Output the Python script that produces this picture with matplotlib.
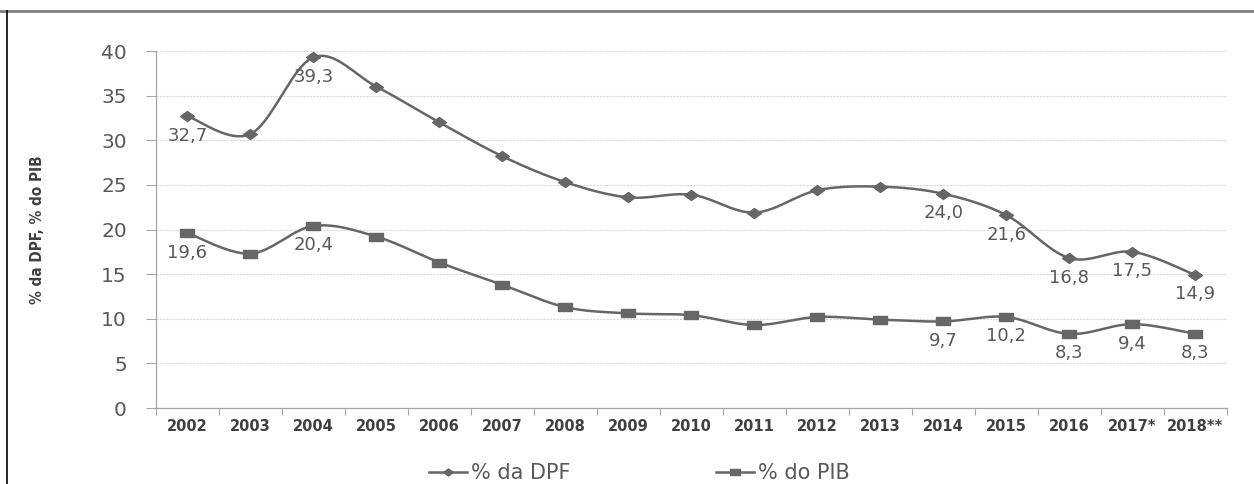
import numpy as np
import matplotlib
matplotlib.use('Agg')
import matplotlib.pyplot as plt
from matplotlib.lines import Line2D

years = ['2002', '2003', '2004', '2005', '2006', '2007', '2008', '2009', '2010',
         '2011', '2012', '2013', '2014', '2015', '2016', '2017*', '2018**']
pct_dpf = [32.7, 30.7, 39.3, 36.0, 32.0, 28.2, 25.3, 23.6, 23.9,
           21.9, 24.4, 24.8, 24.0, 21.6, 16.8, 17.5, 14.9]
pct_pib = [19.6, 17.3, 20.4, 19.2, 16.3, 13.8, 11.3, 10.6, 10.4,
           9.3, 10.2, 9.9, 9.7, 10.2, 8.3, 9.4, 8.3]
labelled = [0, 2, 12, 13, 14, 15, 16]

LINE = '#666666'
TXT = '#595959'


def smooth(ys, n=24):
    # Excel-like smoothed line: Catmull-Rom as cubic Bezier segments
    pts = np.column_stack([np.arange(len(ys)), ys]).astype(float)
    out = []
    for i in range(len(pts) - 1):
        p0 = pts[i - 1] if i > 0 else pts[i]
        p1, p2 = pts[i], pts[i + 1]
        p3 = pts[i + 2] if i + 2 < len(pts) else pts[i + 1]
        c1 = p1 + (p2 - p0) / 6
        c2 = p2 - (p3 - p1) / 6
        t = np.linspace(0, 1, n)[:, None]
        seg = ((1 - t) ** 3) * p1 + 3 * ((1 - t) ** 2) * t * c1 \
            + 3 * (1 - t) * t ** 2 * c2 + t ** 3 * p2
        out.append(seg if i == 0 else seg[1:])
    out = np.vstack(out)
    return out[:, 0], out[:, 1]


diamond = [(-1, 0), (0, 0.72), (1, 0), (0, -0.72), (-1, 0)]
rect = [(-1, -0.62), (1, -0.62), (1, 0.62), (-1, 0.62), (-1, -0.62)]

fig = plt.figure(figsize=(12.54, 4.84), dpi=100)
ax = fig.add_axes([0.1244, 0.157, 0.854, 0.7376])

x = np.arange(len(years))
for vals, mk in [(pct_dpf, diamond), (pct_pib, rect)]:
    sx, sy = smooth(vals)
    ax.plot(sx, sy, color=LINE, lw=1.8, zorder=3)
    ax.plot(x, vals, ls='none', marker=mk, ms=10, color=LINE, zorder=4)
    for i in labelled:
        ax.annotate(f'{vals[i]:.1f}'.replace('.', ','), (x[i], vals[i]),
                    xytext=(0, -14), textcoords='offset points',
                    ha='center', va='center', fontsize=13, color=TXT)

ax.set_xlim(-0.5, len(years) - 0.5)
ax.set_ylim(0, 40)
ax.set_yticks(range(0, 41, 5))
ax.set_xticks(x)
ax.set_xticklabels(years, fontsize=10.5, fontweight='bold', color='#404040')
ax.set_xticks(np.arange(-0.5, len(years), 1), minor=True)
ax.tick_params(axis='x', which='major', length=0, pad=8)
ax.tick_params(axis='x', which='minor', length=5, color='#a6a6a6', width=0.8)
ax.tick_params(axis='y', length=7, color='#a6a6a6', width=0.8, pad=14,
               labelsize=14.5, labelcolor=TXT)

ax.grid(axis='y', color='#d9d9d9', lw=0.8, ls=(0, (2, 1)))
ax.set_axisbelow(True)
for s in ['top', 'right']:
    ax.spines[s].set_visible(False)
for s in ['left', 'bottom']:
    ax.spines[s].set_color('#a6a6a6')
    ax.spines[s].set_linewidth(0.9)

fig.text(0.03, 0.525, '% da DPF, % do PIB', rotation=90, ha='center', va='center',
         fontsize=11, fontweight='bold', fontstretch='condensed', color='#404040',
         family=['DejaVu Sans'])

handles = [Line2D([], [], color=LINE, lw=1.8, marker=diamond, ms=7),
           Line2D([], [], color=LINE, lw=1.8, marker=rect, ms=7)]
fig.legend(handles, ['% da DPF', '% do PIB'], loc='center',
           bbox_to_anchor=(0.51, 0.022), ncol=2, frameon=False,
           fontsize=15, labelcolor=TXT, handlelength=1.8, handletextpad=0.2,
           columnspacing=7.0)

# outer frame pieces visible in the crop
fig.add_artist(Line2D([0, 1], [0.977, 0.977], transform=fig.transFigure,
                      color='#7f7f7f', lw=2))
fig.add_artist(Line2D([0.0056, 0.0056], [0, 0.977], transform=fig.transFigure,
                      color='black', lw=1.2))

fig.savefig('out.png', dpi=100)
